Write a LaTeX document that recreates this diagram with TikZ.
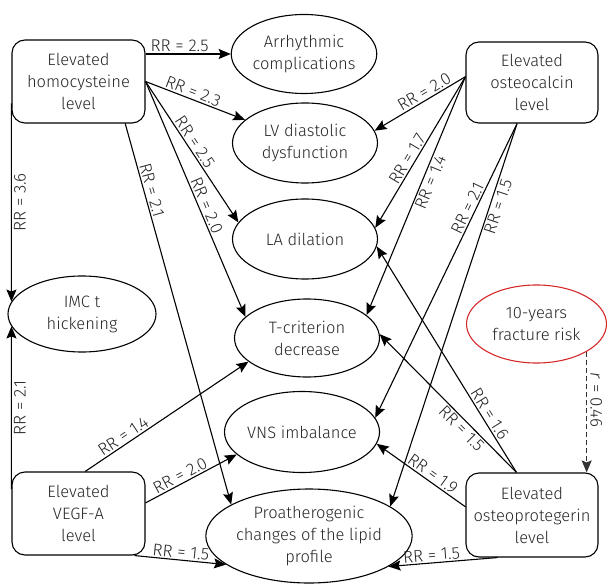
\documentclass[tikz,border=0pt]{standalone}
\usepackage{fontspec}
\setmainfont{Fira Sans}[UprightFont={* Light}, ItalicFont={* Light Italic}]
\usepackage{tikz}
\usetikzlibrary{positioning, arrows.meta, shapes.geometric, calc}
\usepackage{xcolor}
\definecolor{txtgray}{HTML}{262626}
\definecolor{riskred}{HTML}{D42A2A}

\begin{document}
\begin{tikzpicture}[x=1pt, y=-1pt,
    factor/.style={rectangle, rounded corners=13pt, draw, line width=1.1pt, minimum width=133pt, minimum height=83pt, align=center, text=txtgray, font=\fontsize{16.5}{22}\selectfont},
    outcome/.style={ellipse, draw, line width=1.1pt, minimum width=145pt, minimum height=79pt, inner sep=0pt, align=center, text=txtgray, font=\fontsize{16.5}{22}\selectfont},
    risk/.style={->, line width=1.1pt, >={Stealth[length=12pt, width=10pt, inset=2pt]}},
    corr/.style={risk, line width=1.4pt, dash pattern=on 5pt off 3pt, black!80},
    rr/.style={sloped, inner sep=1.5pt, text=txtgray, font=\fontsize{17}{19}\selectfont},
    rrv/.style={inner sep=2pt, text=txtgray, font=\fontsize{17}{19}\selectfont}
]
\useasboundingbox (0,0) rectangle (607,585);

% Risk factors
\node[factor] (homo) at (78.5,81.5) {Elevated\\homocysteine\\level};
\node[factor, minimum width=132pt, minimum height=81pt] (ocal) at (532,82.5) {Elevated\\osteocalcin\\level};
\node[factor] (vegf) at (78.5,513.5) {Elevated\\VEGF-A\\level};
\node[factor, minimum width=132pt, minimum height=84pt] (opg) at (532,515) {Elevated\\osteoprotegerin\\level};

% Outcomes
\node[outcome] (arr) at (304,54) {Arrhythmic\\complications};
\node[outcome, minimum height=80pt] (lv) at (305,143) {LV diastolic\\dysfunction};
\node[outcome, minimum height=80pt] (la) at (305,239) {LA dilation};
\node[outcome, minimum width=148pt, minimum height=76pt] (imc) at (82,314) {IMC t\\hickening};
\node[outcome, minimum height=78pt] (tcrit) at (307,338) {T-criterion\\decrease};
\node[outcome, minimum width=143pt, minimum height=81pt] (vns) at (302,432) {VNS imbalance};
\node[outcome, minimum width=164pt, minimum height=94pt] (proath) at (309,536) {Proatherogenic\\changes of the lipid\\profile};
\node[outcome, draw=riskred, minimum width=140pt, minimum height=78pt] (frisk) at (536.5,324) {10-years\\fracture risk};

% Homocysteine
\draw[risk] (homo.east |- arr.west) -- node[rr, above, pos=0.4] {RR = 2.5} (arr.west);
\draw[risk] (homo.east) -- node[rr, above, pos=0.45] {RR = 2.3} (lv);
\draw[risk] (homo.east) -- node[rr, above, pos=0.46] {RR = 2.5} (la.166);
\draw[risk] (homo.east) -- node[rr, above, pos=0.54] {RR = 2.0} (tcrit.161);
\draw[risk] (homo.-42) -- node[rr, above, pos=0.18] {RR = 2.1} (proath.158);
\draw[risk] (homo.198) -- node[rrv, midway, rotate=90, anchor=north] {RR = 3.6} (imc.170);

% Osteocalcin
\draw[risk] (ocal.175) -- node[rr, above, pos=0.41] {RR = 2.0} (lv.10);
\draw[risk] (ocal.175) -- node[rr, above, pos=0.57] {RR = 1.7} (la.9);
\draw[risk] (ocal.175) -- node[rr, below, pos=0.43] {RR = 1.4} (tcrit.21);
\draw[risk] (ocal.-110) -- node[rr, above, pos=0.30] {RR = 2.1} (vns.11);
\draw[risk] (ocal.-110) -- node[rr, below, pos=0.21] {RR = 1.5} (proath.20);

% VEGF-A
\draw[risk] (vegf.160) -- node[rrv, midway, rotate=90, anchor=north] {RR = 2.1} (imc.190);
\draw[risk] (vegf.81) -- node[rr, above, pos=0.26] {RR = 1.4} (tcrit.202);
\draw[risk] (vegf.9) -- node[rr, above, pos=0.42] {RR = 2.0} (vns.199);
\draw[risk] (vegf.-37) -- node[rr, above, pos=0.5] {RR = 1.5} (proath.199);

% Osteoprotegerin
\draw[risk] (opg.110) -- node[rr, above, pos=0.24] {RR = 1.6} (la.-6);
\draw[risk] (opg.110) -- node[rr, below, pos=0.36] {RR = 1.5} (tcrit.3);
\draw[risk] (opg.173) -- node[rr, above, pos=0.42] {RR = 1.9} (vns.-9);
\draw[risk] (opg.-129) -- node[rr, above, pos=0.6] {RR = 1.5} (proath.-21);

% Fracture risk correlation
\draw[corr] (frisk.-29) -- node[rrv, pos=0.4, rotate=-90, anchor=south, inner sep=3pt] {\textit{r} = 0.46} (frisk.-29 |- opg.north);
\end{tikzpicture}
\end{document}
